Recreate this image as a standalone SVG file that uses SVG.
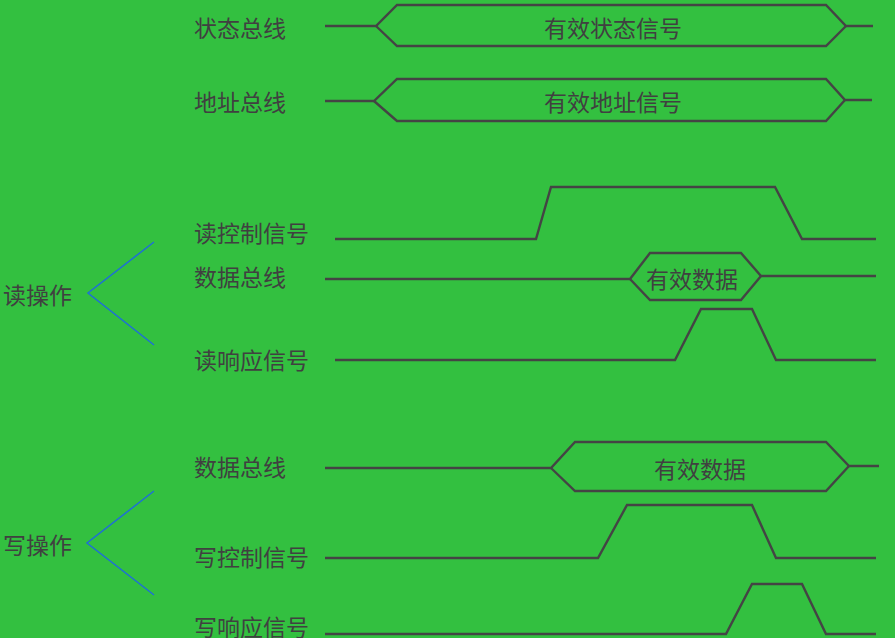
<svg xmlns="http://www.w3.org/2000/svg" width="895" height="638" viewBox="0 0 895 638">
<style>
.t{font-family:"Noto Sans CJK SC","Noto Sans",sans-serif;font-size:23px;fill:#404040;dominant-baseline:central}
.c{text-anchor:middle}
.w{fill:none;stroke:#444;stroke-width:2.4;stroke-linejoin:miter}
.b{fill:none;stroke:#1e6fd6;stroke-width:1.5}
</style>
<rect width="895" height="638" fill="#33c040"/>
<g id="status-bus">
<text class="t" x="194" y="27">状态总线</text>
<text class="t c" x="613" y="27">有效状态信号</text>
</g>
<g id="address-bus">
<text class="t" x="194" y="101">地址总线</text>
<text class="t c" x="613" y="101">有效地址信号</text>
</g>
<g id="read-op">
<text class="t" x="3" y="294">读操作</text>
</g>
<g id="read-ctrl">
<text class="t" x="194" y="232">读控制信号</text>
</g>
<g id="read-data-bus">
<text class="t" x="194" y="276">数据总线</text>
<text class="t c" x="692" y="278">有效数据</text>
</g>
<g id="read-ack">
<text class="t" x="194" y="359">读响应信号</text>
</g>
<g id="write-op">
<text class="t" x="3" y="544">写操作</text>
</g>
<g id="write-data-bus">
<text class="t" x="194" y="466">数据总线</text>
<text class="t c" x="700" y="468">有效数据</text>
</g>
<g id="write-ctrl">
<text class="t" x="194" y="556">写控制信号</text>
</g>
<g id="write-ack">
<text class="t" x="194" y="626">写响应信号</text>
</g>
<g id="connectors">
<path class="w" d="M325,26 H376 L397,5 H826 L846,26 H873"/>
<path class="w" d="M376,26 L397,46 H826 L846,26"/>
<path class="w" d="M325,101 H374 L397,79 H826 L845,100 H872"/>
<path class="w" d="M374,101 L397,121 H826 L845,100"/>
<path class="b" d="M154,242 L88,293 L154,345"/>
<path class="w" d="M335,239 H536 L551,187 H775 L802,239 H876"/>
<path class="w" d="M325,279 H630 L650,253 H741 L761,276 H876"/>
<path class="w" d="M630,279 L650,300 H741 L761,276"/>
<path class="w" d="M335,360 H675 L701,309 H752 L776,360 H876"/>
<path class="b" d="M154,491 L87,543 L154,595"/>
<path class="w" d="M325,468 H551 L575,442 H826 L849,466 H879"/>
<path class="w" d="M551,468 L575,491 H826 L849,466"/>
<path class="w" d="M325,558 H598 L627,505 H752 L776,558 H876"/>
<path class="w" d="M325,634 H726 L752,584 H802 L826,634 H876"/>
</g>
</svg>
